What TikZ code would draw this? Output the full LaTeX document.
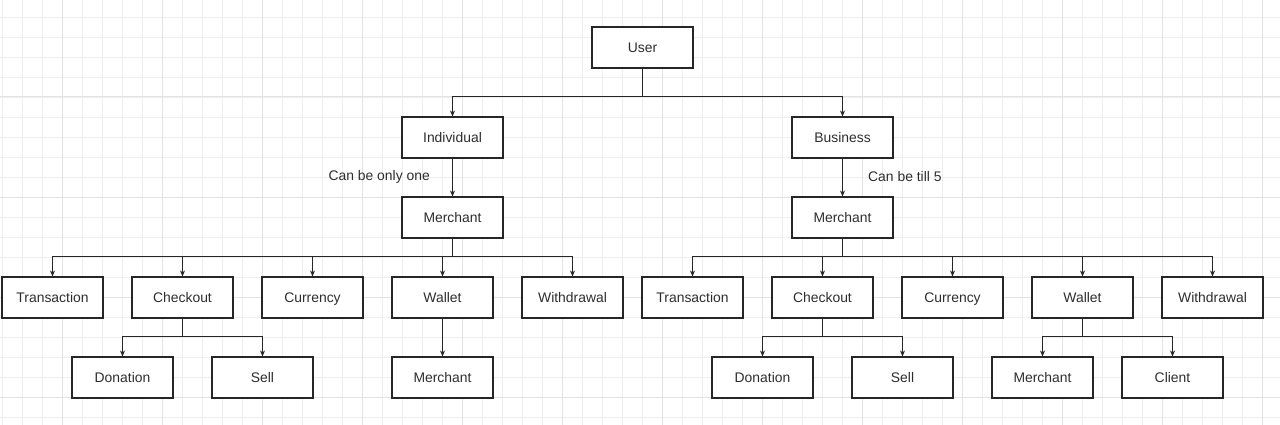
\documentclass[tikz,border=0pt]{standalone}
\usepackage{fontspec}
\setmainfont{Liberation Sans}
\usetikzlibrary{arrows.meta,calc}
\definecolor{gridminor}{HTML}{EEEEEE}
\definecolor{gridmajor}{HTML}{E3E3E3}
\definecolor{ink}{HTML}{262626}
\definecolor{txt}{HTML}{2E2E2E}
\begin{document}
\begin{tikzpicture}[x=1pt,y=-1pt,
  box/.style={draw=ink,line width=1.05pt,fill=white,minimum width=101pt,minimum height=41pt,inner sep=0pt,
    text height=10pt,text depth=0pt,font=\fontsize{13.9}{16}\selectfont,text=txt},
  lbl/.style={font=\fontsize{13.9}{16}\selectfont,text=txt,inner sep=0pt},
  conn/.style={draw=ink,line width=1pt},
  arr/.style={conn,-{Stealth[length=6pt,width=5pt]}}]
\useasboundingbox (0,0) rectangle (1280,425);
\fill[white] (0,0) rectangle (1280,425);
% grid
\foreach \i in {0,...,63} {\draw[gridminor,line width=0.8pt] (2.7+20*\i,0) -- (2.7+20*\i,425);}
\foreach \i in {0,...,21} {\draw[gridminor,line width=0.8pt] (0,17+20*\i) -- (1280,17+20*\i);}
\foreach \i in {0,...,12} {\draw[gridmajor,line width=1pt] (62.7+100*\i,0) -- (62.7+100*\i,425);}
\foreach \i in {0,...,3} {\draw[gridmajor,line width=1pt] (0,97+100*\i) -- (1280,97+100*\i);}
% nodes
\node[box] (user) at (642.5,47.5) {User};
\node[box] (ind) at (452.5,137.5) {Individual};
\node[box] (bus) at (842.5,137.5) {Business};
\node[box] (m1) at (452.5,217.5) {Merchant};
\node[box] (m2) at (842.5,217.5) {Merchant};
\node[box] (t1) at (52.5,297.5) {Transaction};
\node[box] (c1) at (182.5,297.5) {Checkout};
\node[box] (cu1) at (312.5,297.5) {Currency};
\node[box] (w1) at (442.5,297.5) {Wallet};
\node[box] (wd1) at (572.5,297.5) {Withdrawal};
\node[box] (t2) at (692.5,297.5) {Transaction};
\node[box] (c2) at (822.5,297.5) {Checkout};
\node[box] (cu2) at (952.5,297.5) {Currency};
\node[box] (w2) at (1082.5,297.5) {Wallet};
\node[box] (wd2) at (1212.5,297.5) {Withdrawal};
\node[box] (d1) at (122.5,377.5) {Donation};
\node[box] (s1) at (262.5,377.5) {Sell};
\node[box] (wm1) at (442.5,377.5) {Merchant};
\node[box] (d2) at (762.5,377.5) {Donation};
\node[box] (s2) at (902.5,377.5) {Sell};
\node[box] (wm2) at (1042.5,377.5) {Merchant};
\node[box] (cl2) at (1172.5,377.5) {Client};
% labels
\node[lbl,anchor=east] (lab1) at (430,177) {Can be only one};
\node[lbl,anchor=west] (lab2) at (868,177) {Can be till 5};
% connectors
\foreach \c in {ind,bus} {\draw[arr] (user.south) |- ($(\c.north)+(0,-19.5)$) -- (\c.north);}
\draw[arr] (ind.south) -- (m1.north);
\draw[arr] (bus.south) -- (m2.north);
\foreach \c in {t1,c1,cu1,w1,wd1} {\draw[arr] (m1.south) |- ($(\c.north)+(0,-19.5)$) -- (\c.north);}
\foreach \c in {t2,c2,cu2,w2,wd2} {\draw[arr] (m2.south) |- ($(\c.north)+(0,-19.5)$) -- (\c.north);}
\foreach \c in {d1,s1} {\draw[arr] (c1.south) |- ($(\c.north)+(0,-19.5)$) -- (\c.north);}
\foreach \c in {d2,s2} {\draw[arr] (c2.south) |- ($(\c.north)+(0,-19.5)$) -- (\c.north);}
\draw[arr] (w1.south) -- (wm1.north);
\foreach \c in {wm2,cl2} {\draw[arr] (w2.south) |- ($(\c.north)+(0,-19.5)$) -- (\c.north);}
\end{tikzpicture}
\end{document}
